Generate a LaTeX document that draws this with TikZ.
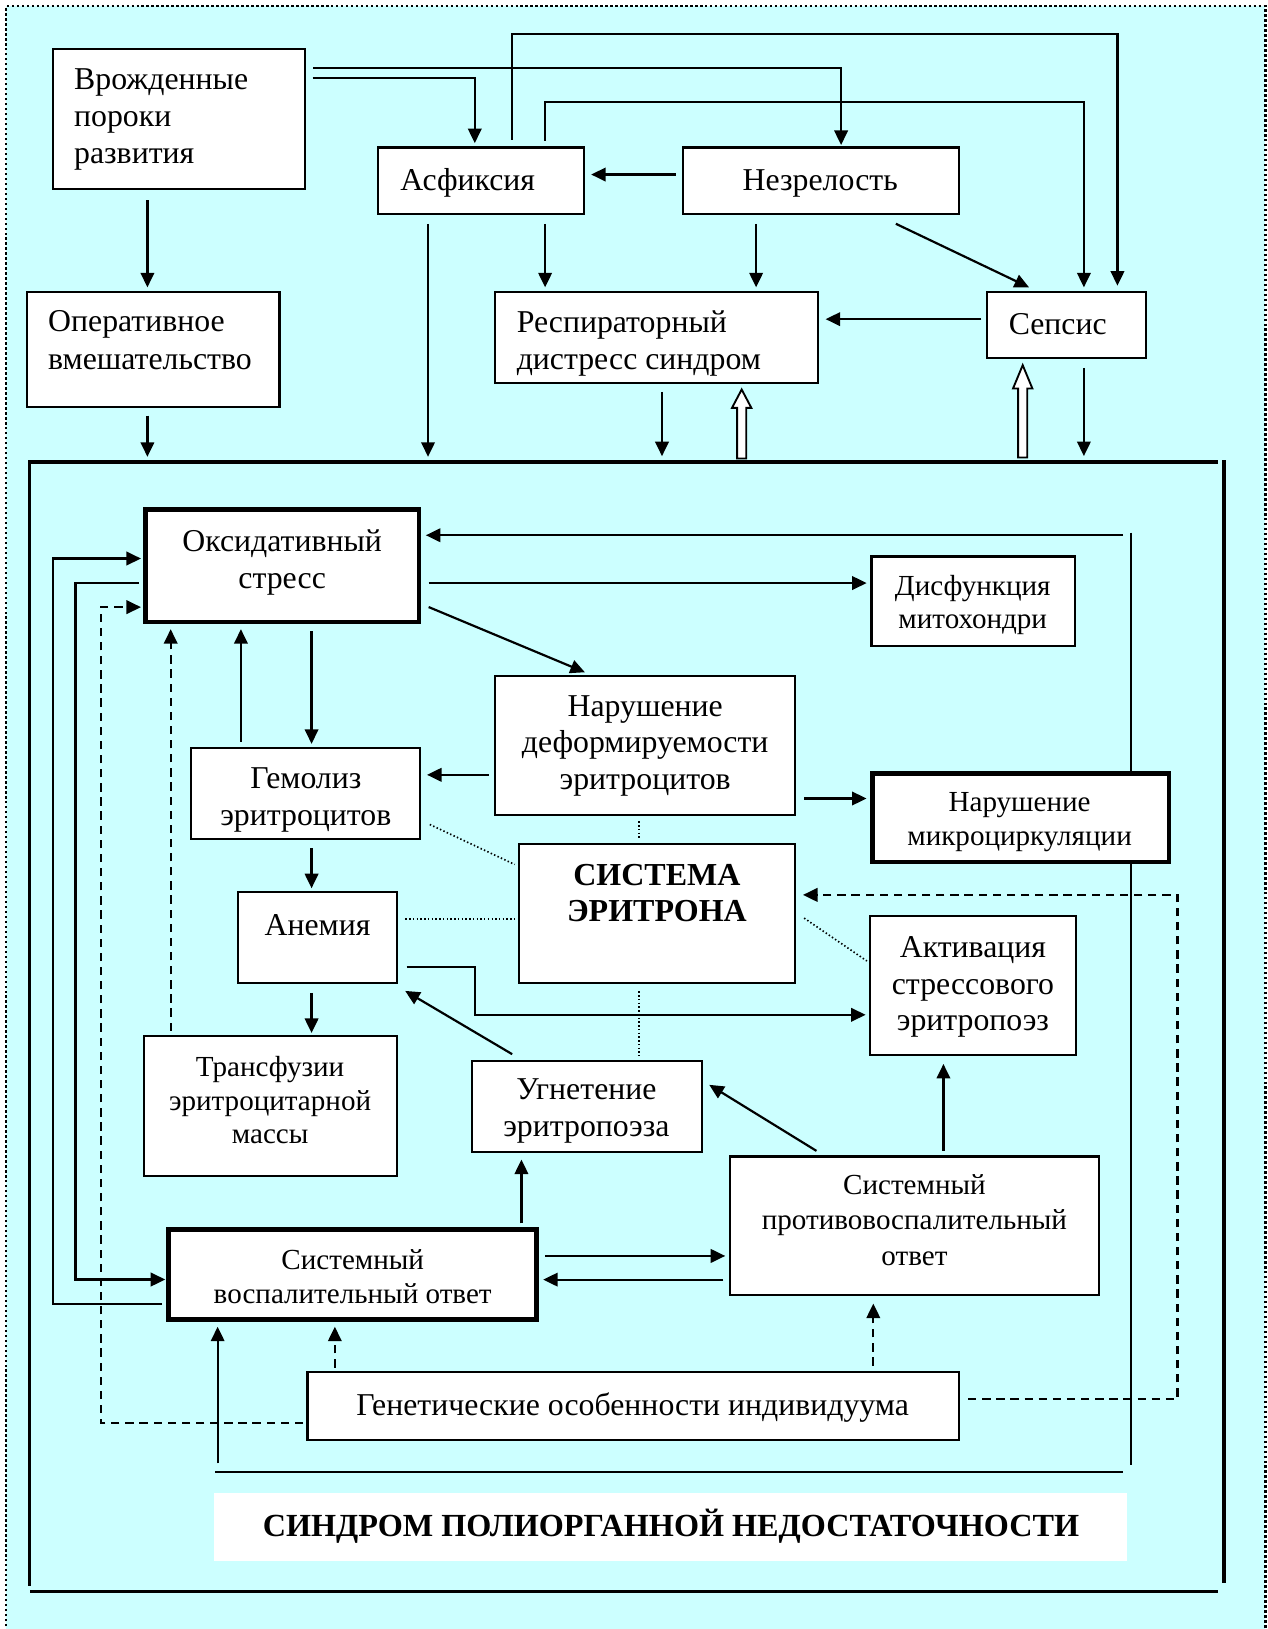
\documentclass[tikz,border=0pt]{standalone}
\usepackage{fontspec}
\setmainfont{Liberation Serif}
\usetikzlibrary{arrows.meta,fit,calc}
\definecolor{bgc}{RGB}{204,255,255}
\newcommand\hollowarrow[4]{\draw[line width=0.9pt, fill=white] (#1-4.4,#4) -- (#1-4.4,#3) -- (#1-9.3,#3) -- (#1,#2) -- (#1+9.3,#3) -- (#1+4.4,#3) -- (#1+4.4,#4) -- cycle;}
\begin{document}
\begin{tikzpicture}[x=0.5pt,y=-0.5pt,
  box/.style={draw=black, fill=white, line width=1pt, inner sep=0pt},
  thickbox/.style={box, line width=2.3pt},
  midbox/.style={box, line width=1.3pt},
  txt/.style={inner sep=0pt, align=center, yshift=-2.3pt, font=\fontsize{15.3}{17.75}\selectfont,
    execute at begin node=\strut, execute at end node=\strut},
  stxt/.style={txt, font=\fontsize{14}{16.5}\selectfont},
  btxt/.style={txt, font=\bfseries\fontsize{15.4}{17.6}\selectfont},
  arr/.style={-{Triangle[length=7pt,width=6.5pt]}, line width=1.05pt},
  darr/.style={arr, dash pattern=on 4pt off 2.8pt},
  dotl/.style={line width=0.8pt, dash pattern=on 0.7pt off 1.1pt},
  thinl/.style={line width=0.7pt},
  frame/.style={line width=1.7pt},
  border/.style={line width=1.1pt, dash pattern=on 1.2pt off 1.2pt}
]
\useasboundingbox (0,0) rectangle (1220,1568);
\fill[white] (0,0) rectangle (1220,1568);
\fill[bgc] (6,6) rectangle (1218,1575);
\draw[border] (6,1575) -- (6,6) -- (1218,6) -- (1218,1575);

% long thin lines (behind boxes)
\draw[thinl] (1088.5,512.6) -- (1088.5,1410);
\draw[thinl] (207,1416.7) -- (1080.6,1416.7);

% frame of the organism
\coordinate (ftop) at (0,444.6);
\draw[frame] (28.3,1526.3) -- (28.3,444.6) -- (1172.4,444.6);
\draw[frame] (1178.4,443) -- (1178.4,1523.4);
\draw[frame] (29,1531.8) -- (1172.4,1531.8);

% boxes
\node[box, fit={(51,47.5)(294,181.7)}] (vpr) {};
\node[box, fit={(364,142)(562,206)}] (asf) {};
\node[box, fit={(657,142)(923,206.4)}] (nez) {};
\node[box, fit={(26.3,281)(269,391.6)}] (oper) {};
\node[box, fit={(476.8,281)(787.7,368.5)}] (rds) {};
\node[box, fit={(950.2,281)(1102.8,345)}] (seps) {};
\node[thickbox, fit={(140,490.2)(403.2,598.6)}] (oks) {};
\node[midbox, fit={(838.7,535.9)(1034.8,621.8)}] (disf) {};
\node[box, fit={(476.8,650.8)(765,784.1)}] (deform) {};
\node[box, fit={(183.9,720)(404,808)}] (gem) {};
\node[thickbox, fit={(839.6,744.4)(1125.3,829.8)}] (micro) {};
\node[box, fit={(499.2,812.8)(765,946.3)}] (sys) {};
\node[box, fit={(229.2,859)(382,946.3)}] (anem) {};
\node[box, fit={(837.4,882)(1036,1015.7)}] (aktiv) {};
\node[box, fit={(138.7,997.3)(382,1131.6)}] (transf) {};
\node[box, fit={(454.7,1021.3)(675.3,1108.8)}] (ugn) {};
\node[box, fit={(702.3,1113.2)(1057.9,1246.4)}] (spo) {};
\node[thickbox, fit={(162.2,1183.4)(516.6,1270)}] (svo) {};
\node[box, fit={(296,1321)(922.9,1386.2)}] (gen) {};
\node[fill=white, inner sep=0pt, fit={(206,1436.9)(1084.9,1502.4)}] (synd) {};

% texts
\node[txt, align=left, anchor=west] (vprT) at (71,112.5) {Врожденные\\пороки\\развития};
\node[txt, anchor=west] (asfT) at (385,172) {Асфиксия};
\node[txt] (nezT) at (789.5,172) {Незрелость};
\node[txt, align=left, anchor=west, font=\fontsize{15.3}{18}\selectfont] (operT) at (46,328) {Оперативное\\вмешательство};
\node[txt, align=left, anchor=west, font=\fontsize{15.3}{18}\selectfont] (rdsT) at (497,328) {Респираторный\\дистресс синдром};
\node[txt, anchor=west] (sepsT) at (970.6,310.3) {Сепсис};
\node[txt, font=\fontsize{15.3}{18}\selectfont] (oksT) at (271.6,538.7) {Оксидативный\\стресс};
\node[stxt, font=\fontsize{14}{15.75}\selectfont] (disfT) at (936.3,579.8) {Дисфункция\\митохондри};
\node[txt] (deformT) at (621,715.5) {Нарушение\\деформируемости\\эритроцитов};
\node[txt] (gemT) at (294.4,767.3) {Гемолиз\\эритроцитов};
\node[stxt] (microT) at (981.4,788.9) {Нарушение\\микроциркуляции};
\node[btxt] (sysT) at (632.3,860.2) {СИСТЕМА\\ЭРИТРОНА};
\node[txt] (anemT) at (305.6,889) {Анемия};
\node[txt, font=\fontsize{15.3}{17.5}\selectfont] (aktivT) at (936.5,947.4) {Активация\\стрессового\\эритропоэз};
\node[stxt, font=\fontsize{14}{16.1}\selectfont] (transfT) at (260,1059) {Трансфузии\\эритроцитарной\\массы};
\node[txt, font=\fontsize{15.3}{18}\selectfont] (ugnT) at (564.5,1067) {Угнетение\\эритропоэза};
\node[stxt, font=\fontsize{14}{17}\selectfont] (spoT) at (880.2,1174.8) {Системный\\противовоспалительный\\ответ};
\node[stxt, font=\fontsize{14}{16.2}\selectfont] (svoT) at (339.5,1228.7) {Системный\\воспалительный ответ};
\node[txt] (genT) at (608.9,1350.5) {Генетические особенности индивидуума};
\node[btxt, font=\bfseries\fontsize{15.5}{18}\selectfont] (syndT) at (645.8,1466.4) {СИНДРОМ ПОЛИОРГАННОЙ НЕДОСТАТОЧНОСТИ};

% top connectors
\draw[arr, shorten <=3.2pt, shorten >=0.7pt] (vpr.east |- 0,65.5) -| (809.6,0 |- nez.north);
\draw[arr, shorten <=3pt, shorten >=1.6pt] (vpr.east |- 0,75.4) -| (457,0 |- asf.north);
\draw[arr, shorten <=3.2pt, shorten >=2.5pt] (492.5,0 |- asf.north) |- (1075.6,33) -- (1075.6,0 |- seps.north);
\draw[arr, shorten <=2.8pt, shorten >=1.7pt] (524.7,0 |- asf.north) |- (1043.3,98.5) -- (1043.3,0 |- seps.north);
\draw[arr, shorten <=2.8pt, shorten >=3pt] (nez.west |- 0,168) -- (asf.east |- 0,168);
\draw[arr, shorten <=4.2pt, shorten >=1.7pt] (524.7,0 |- asf.south) -- (524.7,0 |- rds.north);
\draw[arr, shorten <=4pt, shorten >=1.7pt] (727.8,0 |- nez.south) -- (727.8,0 |- rds.north);
\draw[arr] ([shift={(206.3,8)}]nez.south west) -- ([shift={(41.3,-3.4)}]seps.north west);
\draw[arr, shorten <=2.35pt, shorten >=3pt] (seps.west |- 0,307.2) -- (rds.east |- 0,307.2);
\draw[arr, shorten <=4.2pt, shorten >=2.45pt] (412,0 |- asf.south) -- (412,0 |- ftop);
\draw[arr, shorten <=5pt, shorten >=1.7pt] (141.9,0 |- vpr.south) -- (141.9,0 |- oper.north);
\draw[arr, shorten <=3.7pt, shorten >=2.45pt] (141.9,0 |- oper.south) -- (141.9,0 |- ftop);
\draw[arr, shorten <=3.85pt, shorten >=2.75pt] (637.2,0 |- rds.south) -- (637.2,0 |- ftop);
\draw[arr, shorten <=4pt, shorten >=2.8pt] (1043.3,0 |- seps.south) -- (1043.3,0 |- ftop);
\hollowarrow{713.9}{374.9}{392.6}{441.3}
\hollowarrow{984.4}{351.5}{373.9}{440.4}

% inner connectors
\draw[arr, shorten >=2.2pt] (1081,515.2) -- (oks.east |- 0,515.2);
\draw[arr, shorten <=3.5pt, shorten >=1.6pt] (oks.east |- 0,561.2) -- (disf.west |- 0,561.2);
\draw[arr] ([shift={(7.1,-16.6)}]oks.south east) -- ([shift={(87.2,-2.7)}]deform.north west);
\draw[arr, shorten <=2.6pt, shorten >=3pt] (deform.west |- 0,745.8) -- (gem.east |- 0,745.8);
\draw[arr, shorten <=4pt, shorten >=1.6pt] (deform.east |- 0,768.6) -- (micro.west |- 0,768.6);
\draw[arr, shorten <=2.4pt, shorten >=2.35pt] (231.9,0 |- gem.north) -- (231.9,0 |- oks.south);
\draw[arr, shorten <=3.3pt, shorten >=1.5pt] (299.9,0 |- oks.south) -- (299.9,0 |- gem.north);
\draw[arr, shorten <=3.7pt, shorten >=1.5pt] (299.9,0 |- gem.south) -- (299.9,0 |- anem.north);
\draw[arr, shorten <=4.25pt, shorten >=1pt] (299.9,0 |- anem.south) -- (299.9,0 |- transf.north);
\draw[darr, shorten <=2pt, shorten >=2.35pt] (164.3,0 |- transf.north) -- (164.3,0 |- oks.south);
\draw[arr, shorten <=4.15pt, shorten >=1.6pt] (anem.east |- 0,930.8) -- (457.1,930.8) -- (457.1,976.8) -- (aktiv.west |- 0,976.8);
\draw[arr] ([shift={(39.3,-5.6)}]ugn.north west) -- ([shift={(7,6.5)}]anem.south east);
\draw[arr] ([shift={(84.6,-4.4)}]spo.north west) -- ([shift={(6.4,23.9)}]ugn.north east);
\draw[arr, shorten <=2.2pt, shorten >=3.7pt] (908.1,0 |- spo.north) -- (908.1,0 |- aktiv.south);
\draw[arr, shorten <=1.8pt, shorten >=3.15pt] (501.9,0 |- svo.north) -- (501.9,0 |- ugn.south);
\draw[arr, shorten <=2.95pt, shorten >=1.6pt] (svo.east |- 0,1208.9) -- (spo.west |- 0,1208.9);
\draw[arr, shorten <=2.55pt, shorten >=1.95pt] (spo.west |- 0,1231.7) -- (svo.east |- 0,1231.7);
\draw[darr, shorten <=1.85pt, shorten >=2.35pt] (322.3,0 |- gen.north) -- (322.3,0 |- svo.south);
\draw[darr, shorten <=2.75pt, shorten >=3.65pt] (840.6,0 |- gen.north) -- (840.6,0 |- spo.south);
\draw[darr, shorten <=1.6pt, shorten >=1pt] (gen.west |- 0,1369.6) -- (97.1,1369.6) -- (97.1,584.4) -- (oks.west |- 0,584.4);
\draw[darr, shorten <=3.95pt, shorten >=3.45pt] (gen.east |- 0,1346.7) -- (1133.4,1346.7) -- (1133.4,861.4) -- (sys.east |- 0,861.4);
\draw[arr, shorten <=2pt, shorten >=1pt] (svo.west |- 0,1254.8) -- (51.1,1254.8) -- (51.1,537.6) -- (oks.west |- 0,537.6);
\draw[arr, shorten <=2pt, shorten >=0.4pt] (oks.west |- 0,561.2) -- (72.7,561.2) -- (72.7,1231.6) -- (svo.west |- 0,1231.6);
\draw[arr, shorten >=2.35pt] (209.5,1408.6) -- (209.5,0 |- svo.south);

% dotted links of the erythron system
\draw[dotl] ([shift={(8.7,-15.4)}]gem.south east) -- ([shift={(-2.8,20.3)}]sys.north west);
\draw[dotl] (390.3,884.7) -- (sys.west |- 0,884.7);
\draw[dotl] (615,790.6) -- (615,807.3);
\draw[dotl] ([shift={(8,71.9)}]sys.north east) -- ([shift={(-2,44)}]aktiv.north west);
\draw[dotl] (615.3,954.3) -- (615.3,1016);
\end{tikzpicture}
\end{document}
